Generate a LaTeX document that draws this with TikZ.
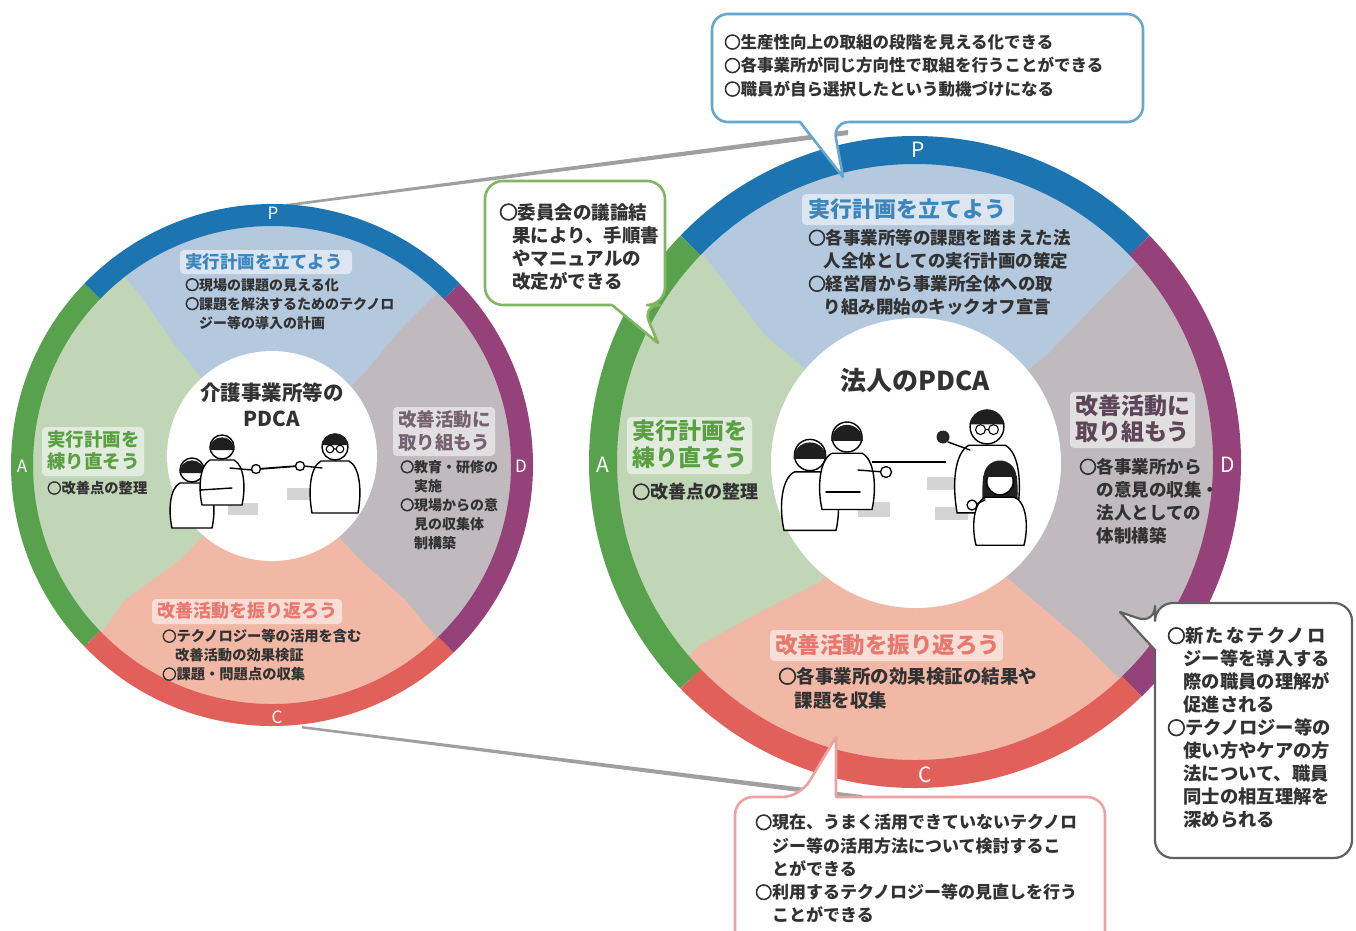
\documentclass[tikz,border=0pt]{standalone}
\usepackage{fontspec}
\usetikzlibrary{calc}
\setmainfont{Noto Sans CJK JP}
\definecolor{ringP}{RGB}{28,116,176}
\definecolor{ringD}{RGB}{150,66,122}
\definecolor{ringC}{RGB}{226,96,90}
\definecolor{ringA}{RGB}{88,162,78}
\definecolor{fillP}{RGB}{180,200,222}
\definecolor{fillD}{RGB}{192,186,190}
\definecolor{fillC}{RGB}{241,184,166}
\definecolor{fillA}{RGB}{192,214,182}
\definecolor{txt}{RGB}{50,50,50}
\definecolor{headP}{RGB}{60,134,190}
\definecolor{headA}{RGB}{90,160,66}
\definecolor{headC}{RGB}{232,120,110}
\definecolor{headD}{RGB}{92,70,88}
\definecolor{lineP}{RGB}{100,168,208}
\definecolor{lineA}{RGB}{128,182,98}
\definecolor{lineC}{RGB}{236,162,162}
\definecolor{lineG}{RGB}{96,96,96}
\definecolor{blurG}{RGB}{212,212,212}
% heavy bullet ring
\newcommand\bul{{\addfontfeature{FakeBold=4}○}}
\begin{document}
\begin{tikzpicture}[x=1pt,y=-1pt,
  bodytext/.style n args={2}{anchor=north west,inner sep=0pt,align=left,text=txt,
    font=\bfseries\fontsize{#1}{#2}\selectfont},
  headtext/.style n args={3}{anchor=north west,inner sep=0pt,align=left,text=#3,
    font=\bfseries\fontsize{#1}{#2}\selectfont},
  headbox/.style={fill=white,fill opacity=0.55,rounded corners=4pt},
  ringletter/.style={text=white,font=\fontsize{#1}{#1}\selectfont,inner sep=0pt},
  figbody/.style={fill=white,draw=black,line width=1.4},
  arm/.style={draw=black,line width=1.4,line cap=round},
  hand/.style={fill=white,draw=black,line width=1.3},
  callout/.style={fill=white,line width=2.6,line join=round},
  pics/kid/.style={code={
    \path[figbody] (-12,13) .. controls (-22,18) and (-24,40) .. (-20,58) -- (20,58)
       .. controls (24,40) and (22,18) .. (12,13) -- cycle;
    \path[figbody] (0,0) circle (12);
    \fill[black!88] (-12.7,3) arc[start angle=180,end angle=360,radius=12.7] -- cycle;
  }},
  pics/girl/.style={code={
    \fill[black!88] (-14,-2) .. controls (-16,20) and (-14,30) .. (-10,34) -- (10,34)
       .. controls (14,30) and (16,20) .. (14,-2) -- cycle;
    \path[figbody] (-12,16) .. controls (-22,20) and (-24,40) .. (-20,56) -- (20,56)
       .. controls (24,40) and (22,20) .. (12,16) -- cycle;
    \path[figbody] (0,3) circle (11);
    \fill[black!88] (-13.6,-1) arc[start angle=180,end angle=360,radius=13.6] -- cycle;
  }},
  pics/adult/.style={code={
    \path[figbody] (-14,14) .. controls (-25,20) and (-27,44) .. (-23,66) -- (23,66)
       .. controls (27,44) and (25,20) .. (14,14) -- cycle;
    \path[figbody] (0,0) circle (13);
    \fill[black!88] (-13.6,-2) arc[start angle=190,end angle=350,radius=13.8] -- cycle;
    \draw[line width=1.1] (-5,2) circle (3.8) (5,2) circle (3.8) (-1.2,2) -- (1.2,2);
  }}
]
\useasboundingbox (0,0) rectangle (1356,930);
\fill[white] (0,0) rectangle (1356,930);

% centres of the two cycles
\coordinate (L) at (272,465);
\coordinate (R) at (915,462);

% lines joining the small cycle to the enlarged one
\coordinate (lt1) at (286,204);
\coordinate (lt2) at (848,130);
\coordinate (lb1) at (302,726);
\coordinate (lb2) at (862,795);
\fill[gray!75] (lt1) -- ++(0,2.5) -- ($(lt2)+(0,5)$) -- (lt2) -- cycle;
\fill[gray!75] (lb1) -- ++(0,2.5) -- ($(lb2)+(0,5)$) -- (lb2) -- cycle;

% ---------- small cycle: 介護事業所等のPDCA ----------
\begin{scope}
  \clip (L) circle (240);
  \fill[fillA] (L) circle (242);
  \fill[fillP] (L) -- (175,345) -- (140,295) -- (60,200) -- (272,150) -- (500,220)
     -- (440,290) -- (400,330) -- (365,372) -- cycle;
  \fill[fillD] (L) -- (365,372) -- (400,330) -- (440,290) -- (500,220) -- (560,465)
     -- (480,690) -- (405,600) -- (360,560) -- cycle;
  \fill[fillC] (L) -- (360,560) -- (405,600) -- (480,690) -- (272,760) -- (60,690)
     -- (125,600) -- (180,560) -- cycle;
\end{scope}
\fill[white] (272,456) circle (105);
\draw[ringP,line width=22] (L) ++(-136:250) arc[start angle=-136,end angle=-44,radius=250];
\draw[ringD,line width=22] (L) ++(-44:250) arc[start angle=-44,end angle=46,radius=250];
\draw[ringC,line width=22] (L) ++(46:250) arc[start angle=46,end angle=136,radius=250];
\draw[ringA,line width=22] (L) ++(136:250) arc[start angle=136,end angle=224,radius=250];
\node[ringletter=17] (lP) at (273,213) {P};
\node[ringletter=17] (lD) at (521,466) {D};
\node[ringletter=17] (lC) at (277,717) {C};
\node[ringletter=17] (lA) at (22,466) {A};

% people of the small cycle
\fill[blurG] (228,503) rectangle (258,515);
\fill[blurG] (287,488) rectangle (318,500);
\pic (lkid) at (192,470) {kid};
\pic (lmid) at (222,447) {kid};
\pic[xscale=-1] (lright) at (335,447) {adult};
\draw[arm] (230,468) -- (252,470);
\draw[arm] (200,490) -- (232,488);
\draw[arm] (322,468) -- (304,466);
\draw[line width=1.8] (258,469) -- (298,466);
\path[hand] (256,469) circle (4.5);
\path[hand] (300,466) circle (4.5);

\node[bodytext={20.5}{26},anchor=center,align=center] (lcenter) at (272,405)
  {介護事業所等の\\PDCA};
% heading plates and headings
\fill[headbox] (180,250) rectangle (352,274);
\node[headtext={17.5}{22}{headP}] (lPh) at (185,253) {実行計画を立てよう};
\node[bodytext={14}{19}] (lPb) at (185,278)
  {\bul 現場の課題の見える化\\\bul 課題を解決するためのテクノロ\\\hspace*{1em}ジー等の導入の計画};
\fill[headbox] (42,427) rectangle (144,476);
\node[headtext={18.5}{22.5}{headA}] (lAh) at (47,430) {実行計画を\\練り直そう};
\node[bodytext={14.3}{19}] (lAb) at (47,481) {\bul 改善点の整理};
\fill[headbox] (393,407) rectangle (495,456);
\node[headtext={18.5}{23}{headD!85}] (lDh) at (398,410) {改善活動に\\取り組もう};
\node[bodytext={14}{19}] (lDb) at (400,460)
  {\bul 教育・研修の\\\hspace*{1em}実施\\\bul 現場からの意\\\hspace*{1em}見の収集体\\\hspace*{1em}制構築};
\fill[headbox] (152,599) rectangle (342,624);
\node[headtext={18}{22}{headC}] (lCh) at (157,602) {改善活動を振り返ろう};
\node[bodytext={14.3}{19}] (lCb) at (162,629)
  {\bul テクノロジー等の活用を含む\\\hspace*{0.9em}改善活動の効果検証\\\bul 課題・問題点の収集};

% ---------- enlarged cycle: 法人のPDCA ----------
\begin{scope}
  \clip (R) circle (299);
  \fill[fillA] (R) circle (301);
  \fill[fillP] (R) -- (765,335) -- (700,250) -- (620,150) -- (915,100) -- (1220,180)
     -- (1100,300) -- (1050,352) -- cycle;
  \fill[fillD] (R) -- (1050,352) -- (1100,300) -- (1220,180) -- (1290,462) -- (1220,780)
     -- (1140,700) -- (1080,640) -- (1000,572) -- cycle;
  \fill[fillC] (R) -- (1000,572) -- (1080,640) -- (1140,700) -- (1220,780) -- (915,830)
     -- (620,720) -- (700,645) -- (760,612) -- (820,582) -- cycle;
\end{scope}
\fill[white] (916,463) circle (145);
\draw[ringP,line width=28] (R) ++(-136:312) arc[start angle=-136,end angle=-44,radius=312];
\draw[ringD,line width=28] (R) ++(-44:312) arc[start angle=-44,end angle=46,radius=312];
\draw[ringC,line width=28] (R) ++(46:312) arc[start angle=46,end angle=136,radius=312];
\draw[ringA,line width=28] (R) ++(136:312) arc[start angle=136,end angle=224,radius=312];
\node[ringletter=21] (rP) at (918,150) {P};
\node[ringletter=21] (rD) at (1228,465) {D};
\node[ringletter=21] (rC) at (925,775) {C};
\node[ringletter=21] (rA) at (603,465) {A};

% people of the enlarged cycle
\fill[blurG] (858,502) rectangle (890,517);
\fill[blurG] (927,477) rectangle (958,490);
\fill[blurG] (935,507) rectangle (968,520);
\pic[scale=1.3] (rkid) at (810,455) {kid};
\pic[scale=1.25] (rmid) at (847,437) {kid};
\pic[scale=1.3,xscale=-1] (rright) at (987,427) {adult};
\pic[scale=1.2,xscale=-1] (rgirl) at (1000,478) {girl};
\draw[arm] (858,470) -- (884,472);
\draw[arm] (826,492) -- (860,492);
\draw[arm] (970,450) -- (948,442);
\draw[arm] (985,500) -- (974,505);
\draw[line width=2] (872,462) -- (946,462);
\path[hand] (886,472) circle (5.5);
\fill[black!85] (943,437) circle (6.5);
\path[hand] (972,505) circle (5);

\node[bodytext={26}{30},anchor=center] (rcenter) at (915,381) {法人のPDCA};
\fill[headbox] (802,194) rectangle (1014,225);
\node[headtext={22}{26}{headP}] (rPh) at (808,198) {実行計画を立てよう};
\node[bodytext={17.5}{23}] (rPb) at (808,229)
  {\bul 各事業所等の課題を踏まえた法\\\hspace*{0.9em}人全体としての実行計画の策定\\
   \bul 経営層から事業所全体への取\\\hspace*{0.9em}り組み開始のキックオフ宣言};
\fill[headbox] (1070,392) rectangle (1195,448);
\node[headtext={23}{26}{headD}] (rDh) at (1075,395) {改善活動に\\取り組もう};
\node[bodytext={17.5}{23}] (rDb) at (1079,458)
  {\bul 各事業所から\\\hspace*{1em}の意見の収集・\\\hspace*{1em}法人としての\\\hspace*{1em}体制構築};
\fill[headbox] (627,417) rectangle (752,474);
\node[headtext={23}{27}{headA}] (rAh) at (632,420) {実行計画を\\練り直そう};
\node[bodytext={18}{23}] (rAb) at (632,483) {\bul 改善点の整理};
\fill[headbox] (770,630) rectangle (1003,661);
\node[headtext={22.5}{26}{headC}] (rCh) at (775,634) {改善活動を振り返ろう};
\node[bodytext={18.5}{24}] (rCb) at (778,667)
  {\bul 各事業所の効果検証の結果や\\\hspace*{0.9em}課題を収集};

% ---------- speech bubbles ----------
% top (P)
\coordinate (tP) at (843,177);
\draw[callout,draw=lineP,rounded corners=16] (800,122) -- (712,122) -- (712,14) -- (1143,14)
  -- (1143,122) -- (833,122) [sharp corners] -- (tP) -- cycle;
\node[bodytext={16.5}{23.5}] (bP) at (724,34)
  {\bul 生産性向上の取組の段階を見える化できる\\\bul 各事業所が同じ方向性で取組を行うことができる\\
   \bul 職員が自ら選択したという動機づけになる};
% left (A)
\coordinate (tA) at (658,343);
\draw[callout,draw=lineA,rounded corners=18] (612,305) -- (485,305) -- (485,181) -- (665,181)
  -- (665,305) -- (642,305) [sharp corners] -- (tA) -- cycle;
\node[bodytext={18.5}{23}] (bA) at (499,203)
  {\bul 委員会の議論結\\\hspace*{0.7em}果により、手順書\\\hspace*{0.7em}やマニュアルの\\\hspace*{0.7em}改定ができる};
% right (D)
\coordinate (tD) at (1120,612);
\draw[callout,draw=lineG,line width=2.2,rounded corners=18] (1155,650) -- (1155,858) -- (1352,858)
  -- (1352,603) -- (1155,603) -- (1155,624) [sharp corners] -- (tD) -- cycle;
\node[bodytext={18.3}{23}] (bD) at (1167,627)
  {{\addfontfeature{LetterSpace=12}\bul 新たなテクノロ}\\\hspace*{0.9em}ジー等を導入する\\
   \hspace*{0.9em}際の職員の理解が\\\hspace*{0.9em}促進される\\\bul テクノロジー等の\\
   \hspace*{0.9em}使い方やケアの方\\\hspace*{0.9em}法について、職員\\
   \hspace*{0.9em}同士の相互理解を\\\hspace*{0.9em}深められる};
% bottom (C)
\coordinate (tC) at (836,737);
\draw[callout,draw=lineC,rounded corners=18] (836,797) -- (1105,797) -- (1105,950) -- (735,950)
  -- (735,797) -- (800,797) [sharp corners] -- (tC) -- cycle;
\node[bodytext={17}{23.3}] (bC) at (755,814)
  {\bul 現在、うまく活用できていないテクノロ\\\hspace*{1em}ジー等の活用方法について検討するこ\\
   \hspace*{1em}とができる\\\bul 利用するテクノロジー等の見直しを行う\\\hspace*{1em}ことができる};
\end{tikzpicture}
\end{document}
